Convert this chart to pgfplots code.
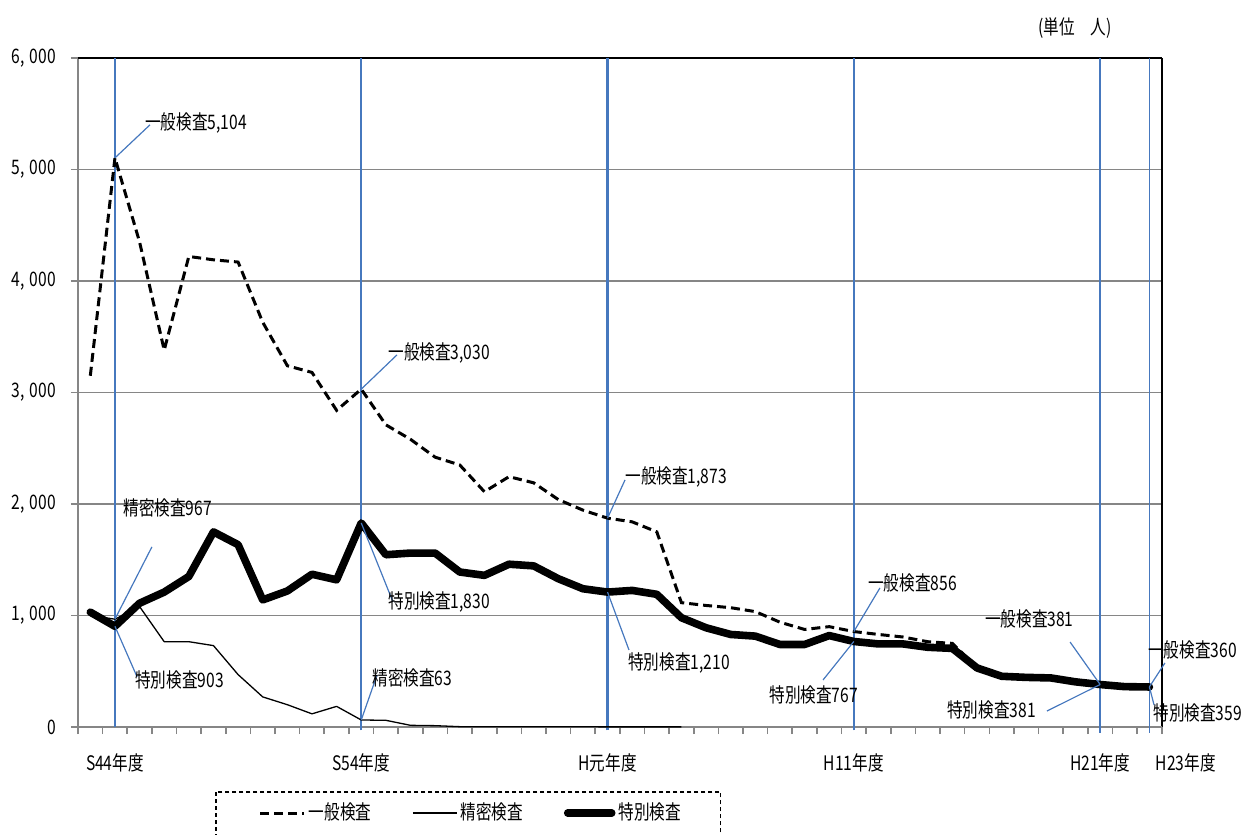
\documentclass[border=0pt]{standalone}
\usepackage{pgfplots}
\usepackage{pgfplotstable}
\pgfplotsset{compat=1.18}
\usepackage{fontspec}
\setmainfont[FakeStretch=0.78]{Noto Sans CJK JP}
\definecolor{vblue}{RGB}{70,120,190}
\definecolor{gridgray}{RGB}{134,134,134}

\pgfplotstableread{
x ippan seimitsu tokubetsu
0 3150 1000 1030
1 5104 967 903
2 4350 1080 1110
3 3380 765 1210
4 4220 765 1350
5 4190 730 1750
6 4170 470 1635
7 3630 270 1140
8 3240 200 1220
9 3180 118 1370
10 2840 185 1320
11 3030 63 1830
12 2710 60 1545
13 2580 15 1560
14 2420 12 1560
15 2350 3 1390
16 2110 2 1360
17 2245 2 1460
18 2190 2 1445
19 2040 2 1330
20 1945 2 1240
21 1873 1 1210
22 1840 1 1225
23 1750 1 1190
24 1115 1 980
25 1090 nan 890
26 1070 nan 830
27 1035 nan 815
28 940 nan 740
29 875 nan 740
30 900 nan 820
31 856 nan 767
32 830 nan 745
33 807 nan 745
34 765 nan 715
35 750 nan 705
36 535 nan 530
37 460 nan 455
38 450 nan 445
39 445 nan 440
40 405 nan 405
41 381 nan 381
42 362 nan 362
43 360 nan 359
}\data

\begin{document}
\begin{tikzpicture}[font=\fontsize{10}{12}\selectfont]
\begin{axis}[
  name=ax, at={(0,0)}, anchor=south west,
  scale only axis, width=541.85pt, height=334.5pt,
  xmin=-0.5, xmax=43.5, ymin=0, ymax=6000,
  clip=false,
  axis line style={draw=none},
  tick align=outside, major tick length=3.5pt,
  xtick pos=lower, ytick pos=left,
  tick style={gridgray, line width=0.8pt},
  ytick={0,1000,2000,3000,4000,5000,6000},
  yticklabels={0,{1,\hspace{2.5pt}000},{2,\hspace{2.5pt}000},{3,\hspace{2.5pt}000},{4,\hspace{2.5pt}000},{5,\hspace{2.5pt}000},{6,\hspace{2.5pt}000}},
  yticklabel style={font=\fontsize{10}{12}\selectfont, xshift=-4pt},
  ymajorgrids, grid style={gridgray, line width=0.9pt},
  xtick={-0.5,0.5,1.5,2.5,3.5,4.5,5.5,6.5,7.5,8.5,9.5,10.5,11.5,12.5,13.5,14.5,15.5,16.5,17.5,18.5,19.5,20.5,21.5,22.5,23.5,24.5,25.5,26.5,27.5,28.5,29.5,30.5,31.5,32.5,33.5,34.5,35.5,36.5,37.5,38.5,39.5,40.5,41.5,42.5,43.5},
  xticklabels={},
  extra x ticks={1,11,21,31,41},
  extra x tick labels={S44年度,S54年度,H元年度,H11年度,H21年度},
  extra x tick style={grid=none, major tick length=0pt, xticklabel style={yshift=-10pt, font=\fontsize{10}{12}\selectfont}},
  legend columns=3,
  legend style={at={(0.363,-0.1286)}, anchor=center, draw=none, fill=none,
    font=\fontsize{10}{12}\selectfont, column sep=0pt,
    nodes={inner xsep=1.5pt},
    /tikz/every even column/.append style={column sep=19pt}},
  legend image code/.code={\draw[#1] (0pt,0pt) -- (22pt,0pt);},
]
% axis frame
\draw[gridgray, line width=1pt] (rel axis cs:0,0) -- (rel axis cs:0,1);
\draw[black, line width=1.1pt] (rel axis cs:0,1) -- (rel axis cs:1,1);
\draw[black, line width=0.8pt] (rel axis cs:1,0) -- (rel axis cs:1,1);
\draw[gridgray, line width=1.1pt] (rel axis cs:0,0) -- (rel axis cs:1,0);
% vertical reference lines
\draw[vblue, line width=0.8pt] (axis cs:1,0) -- (axis cs:1,6000);
\draw[vblue, line width=0.8pt] (axis cs:11,-30) -- (axis cs:11,6000);
\draw[vblue, line width=1.2pt] (axis cs:21,-30) -- (axis cs:21,6000);
\draw[vblue, line width=0.8pt] (axis cs:31,-30) -- (axis cs:31,6000);
\draw[vblue, line width=0.8pt] (axis cs:41,-50) -- (axis cs:41,6000);
\draw[vblue, line width=0.8pt] (axis cs:43,-50) -- (axis cs:43,6000);

\addplot[black, solid, line width=1.5pt, dash pattern=on 4.5pt off 2.5pt] table[x=x,y=ippan] {\data};
\addlegendentry{一般検査}
\addplot[black, solid, line width=0.65pt, line join=round] table[x=x,y=seimitsu] {\data};
\addlegendentry{精密検査}
\addplot[black, solid, line width=3.8pt, line join=round, line cap=round] table[x=x,y=tokubetsu] {\data};
\addlegendentry{特別検査}

% leader lines
\begin{scope}[vblue, line width=0.6pt]
\draw (axis cs:1,5104) -- (axis cs:2.42,5400);
\draw (axis cs:11,3030) -- (axis cs:12.45,3337);
\draw (axis cs:1,967) -- (axis cs:2.50,1615);
\draw (axis cs:1,903) -- (axis cs:1.90,449);
\draw (axis cs:11,1830) -- (axis cs:12.29,1121);
\draw (axis cs:11,63) -- (axis cs:11.64,466);
\draw (axis cs:21,1873) -- (axis cs:21.71,2216);
\draw (axis cs:21,1210) -- (axis cs:21.87,691);
\draw (axis cs:31,856) -- (axis cs:32.06,1247);
\draw (axis cs:31,767) -- (axis cs:29.75,422);
\draw (axis cs:41,381) -- (axis cs:39.78,762);
\draw (axis cs:41,381) -- (axis cs:38.84,143);
\draw (axis cs:43,360) -- (axis cs:43.63,574);
\draw (axis cs:43,359) -- (axis cs:43.19,197);
\end{scope}

% data labels
\begin{scope}[every node/.style={anchor=west, inner sep=0pt, font=\fontsize{10}{12}\selectfont}]
\node at (axis cs:2.22,5418) {一般検査5,104};
\node at (axis cs:12.09,3355) {一般検査3,030};
\node at (axis cs:1.33,1964) {精密検査967};
\node at (axis cs:1.81,422) {特別検査903};
\node at (axis cs:12.09,1121) {特別検査1,830};
\node at (axis cs:11.44,440) {精密検査63};
\node at (axis cs:21.71,2243) {一般検査1,873};
\node at (axis cs:21.83,574) {特別検査1,210};
\node at (axis cs:31.57,1292) {一般検査856};
\node at (axis cs:27.56,287) {特別検査767};
\node at (axis cs:36.32,969) {一般検査381};
\node at (axis cs:34.78,152) {特別検査381};
\node at (axis cs:42.94,691) {一般検査360};
\node at (axis cs:43.15,126) {特別検査359};
\node at (axis cs:38.48,6270) {(単位　人)};
\end{scope}

% last category label
\node[anchor=north, yshift=-10pt, font=\fontsize{10}{12}\selectfont] at (axis cs:44.48,0) {H23年度};

% legend frame
\draw[black, line width=0.6pt, dash pattern=on 2pt off 1.5pt] (rel axis cs:0.1273,-0.0972) rectangle (rel axis cs:0.5932,-0.2);
\end{axis}
\pgfresetboundingbox
\path[use as bounding box] (-39pt,-53.5pt) rectangle (583.5pt,363.5pt);
\end{tikzpicture}
\end{document}
